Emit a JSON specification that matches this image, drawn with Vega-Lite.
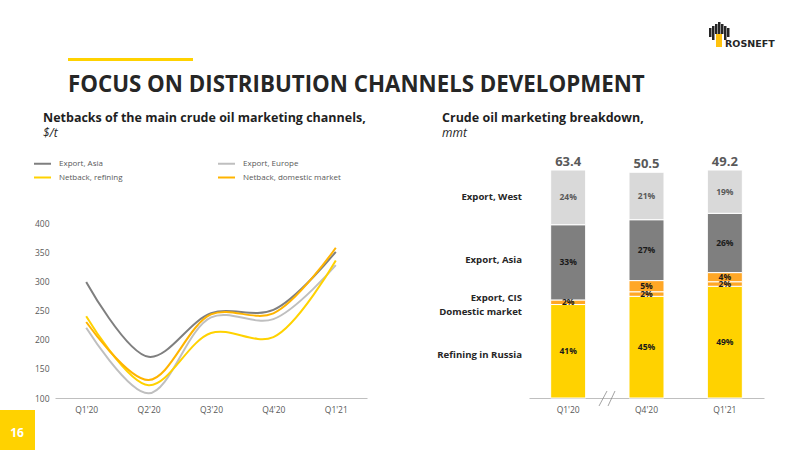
{
"$schema":"https://vega.github.io/schema/vega-lite/v6.json",
"padding":0,
"background":"white",
"bounds":"flush",
"spacing":162,
"resolve":{"scale":{"color":"independent"},"legend":{"color":"independent"}},
"config":{"font":"Open Sans","view":{"stroke":null}},
"datasets":{"one":[{"k":1}],"bars":[
{"q":"Q1'20","c":"Refining in Russia","rank":1,"share":0.41},
{"q":"Q1'20","c":"Domestic market","rank":2,"share":0.02},
{"q":"Q1'20","c":"Export, Asia","rank":4,"share":0.33},
{"q":"Q1'20","c":"Export, West","rank":5,"share":0.24},
{"q":"Q4'20","c":"Refining in Russia","rank":1,"share":0.446},
{"q":"Q4'20","c":"Domestic market","rank":2,"share":0.02},
{"q":"Q4'20","c":"Export, CIS","rank":3,"share":0.049},
{"q":"Q4'20","c":"Export, Asia","rank":4,"share":0.267},
{"q":"Q4'20","c":"Export, West","rank":5,"share":0.208},
{"q":"Q1'21","c":"Refining in Russia","rank":1,"share":0.49},
{"q":"Q1'21","c":"Domestic market","rank":2,"share":0.02},
{"q":"Q1'21","c":"Export, CIS","rank":3,"share":0.04},
{"q":"Q1'21","c":"Export, Asia","rank":4,"share":0.26},
{"q":"Q1'21","c":"Export, West","rank":5,"share":0.19}
]},
"hconcat":[
{"width":312,"height":228,"layer":[
{"data":{"name":"one"},"mark":{"type":"rect","x":-55,"x2":745,"y":-170,"y2":280,"fill":"white","fillOpacity":0},"encoding":{}},
{"data":{"name":"one"},"mark":{"type":"rect","x":-55,"x2":-20,"y":240,"y2":280,"fill":"#FFD200"},"encoding":{}},
{"data":{"name":"one"},"mark":{"type":"rect","x":13,"x2":138,"y":-112,"y2":-109,"fill":"#FFD200"},"encoding":{}},
{"data":{"values":[{"t":"16"}]},"mark":{"type":"text","x":-38,"y":263,"fontSize":12,"fontWeight":"bold","fill":"white"},"encoding":{"text":{"field":"t"}}},
{"data":{"values":[{"t":"FOCUS ON DISTRIBUTION CHANNELS DEVELOPMENT"}]},"mark":{"type":"text","x":13,"y":-78,"align":"left","baseline":"alphabetic","fontSize":22.3,"fontWeight":"bold","fill":"#262626"},"encoding":{"text":{"field":"t"}}},
{"data":{"values":[{"t":"Netbacks of the main crude oil marketing channels,"}]},"mark":{"type":"text","x":-12,"y":-48,"align":"left","baseline":"alphabetic","fontSize":12.5,"fontWeight":"bold","fill":"#1F1F1F"},"encoding":{"text":{"field":"t"}}},
{"data":{"values":[{"t":"$/t"}]},"mark":{"type":"text","x":-12,"y":-33,"align":"left","baseline":"alphabetic","fontSize":12,"fontStyle":"italic","fill":"#262626"},"encoding":{"text":{"field":"t"}}},
{"data":{"values":[{"t":"ROSNEFT"}]},"mark":{"type":"text","x":670,"y":-123,"align":"left","baseline":"alphabetic","fontSize":9.5,"fontWeight":"bold","fill":"#262626","font":"DejaVu Sans"},"encoding":{"text":{"field":"t"}}},
{"data":{"name":"one"},"mark":{"type":"rect","fill":"#262626"},"encoding":{"x":{"value":654},"x2":{"value":656.5},"y":{"value":-142},"y2":{"value":-133}}},
{"data":{"name":"one"},"mark":{"type":"rect","fill":"#262626"},"encoding":{"x":{"value":657},"x2":{"value":659.5},"y":{"value":-144},"y2":{"value":-130}}},
{"data":{"name":"one"},"mark":{"type":"rect","fill":"#262626"},"encoding":{"x":{"value":660},"x2":{"value":662.5},"y":{"value":-146},"y2":{"value":-136}}},
{"data":{"name":"one"},"mark":{"type":"rect","fill":"#262626"},"encoding":{"x":{"value":663},"x2":{"value":665.5},"y":{"value":-148},"y2":{"value":-136}}},
{"data":{"name":"one"},"mark":{"type":"rect","fill":"#262626"},"encoding":{"x":{"value":666},"x2":{"value":668.5},"y":{"value":-146},"y2":{"value":-136}}},
{"data":{"name":"one"},"mark":{"type":"rect","fill":"#262626"},"encoding":{"x":{"value":669},"x2":{"value":671.5},"y":{"value":-144},"y2":{"value":-130}}},
{"data":{"name":"one"},"mark":{"type":"rect","fill":"#262626"},"encoding":{"x":{"value":672},"x2":{"value":674.5},"y":{"value":-142},"y2":{"value":-133}}},
{"data":{"name":"one"},"mark":{"type":"rect","x":661,"x2":667,"y":-136,"y2":-123,"fill":"#FFC20E"},"encoding":{}},
{"data":{"values":[
{"q":"Q1'20","s":"Export, Asia","v":300},{"q":"Q2'20","s":"Export, Asia","v":171},{"q":"Q3'20","s":"Export, Asia","v":246},{"q":"Q4'20","s":"Export, Asia","v":252},{"q":"Q1'21","s":"Export, Asia","v":352},
{"q":"Q1'20","s":"Export, Europe","v":221},{"q":"Q2'20","s":"Export, Europe","v":108},{"q":"Q3'20","s":"Export, Europe","v":239},{"q":"Q4'20","s":"Export, Europe","v":236},{"q":"Q1'21","s":"Export, Europe","v":329},
{"q":"Q1'20","s":"Netback, refining","v":241},{"q":"Q2'20","s":"Netback, refining","v":122},{"q":"Q3'20","s":"Netback, refining","v":212},{"q":"Q4'20","s":"Netback, refining","v":205},{"q":"Q1'21","s":"Netback, refining","v":337},
{"q":"Q1'20","s":"Netback, domestic market","v":231},{"q":"Q2'20","s":"Netback, domestic market","v":131},{"q":"Q3'20","s":"Netback, domestic market","v":244},{"q":"Q4'20","s":"Netback, domestic market","v":246},{"q":"Q1'21","s":"Netback, domestic market","v":359}
]},
"mark":{"type":"line","interpolate":"catmull-rom","strokeWidth":2},
"encoding":{
"x":{"field":"q","type":"ordinal","sort":null,"title":null,"scale":{"type":"point","padding":0.5},"axis":{"labelAngle":0,"ticks":false,"labelFontSize":8.5,"labelColor":"#595959","domainColor":"#BFBFBF","domainWidth":1.2,"labelPadding":7}},
"y":{"field":"v","type":"quantitative","title":null,"scale":{"domain":[100,493],"nice":false,"zero":false},"axis":{"values":[100,150,200,250,300,350,400],"domain":false,"ticks":false,"grid":false,"labelFontSize":8.5,"labelColor":"#595959","labelPadding":6}},
"color":{"field":"s","type":"nominal","sort":null,"scale":{"domain":["Export, Asia","Netback, refining","Export, Europe","Netback, domestic market"],"range":["#7F7F7F","#FFD200","#BFBFBF","#FFB400"]},
"legend":{"orient":"none","legendX":-22,"legendY":-16,"columns":2,"title":null,"symbolType":"stroke","symbolSize":289,"symbolStrokeWidth":2,"labelFontSize":8,"labelColor":"#595959","rowPadding":-3,"columnPadding":91,"labelOffset":7}}
}}
]},
{"width":235,"height":228,"layer":[
{"data":{"values":[{"t":"Crude oil marketing breakdown,"}]},"mark":{"type":"text","x":-87,"y":-48,"align":"left","baseline":"alphabetic","fontSize":12.5,"fontWeight":"bold","fill":"#1F1F1F"},"encoding":{"text":{"field":"t"}}},
{"data":{"values":[{"t":"mmt"}]},"mark":{"type":"text","x":-87,"y":-33,"align":"left","baseline":"alphabetic","fontSize":12,"fontStyle":"italic","fill":"#262626"},"encoding":{"text":{"field":"t"}}},
{"data":{"name":"one"},"mark":{"type":"rule","stroke":"#8C8C8C","strokeWidth":0.8},"encoding":{"x":{"value":70},"x2":{"value":78},"y":{"value":236},"y2":{"value":221}}},
{"data":{"name":"one"},"mark":{"type":"rule","stroke":"#8C8C8C","strokeWidth":0.8},"encoding":{"x":{"value":79},"x2":{"value":86},"y":{"value":236},"y2":{"value":221}}},
{"data":{"name":"bars"},
"mark":{"type":"bar","size":35,"stroke":"white","strokeWidth":1},
"encoding":{
"x":{"field":"q","type":"ordinal","sort":null,"title":null,"scale":{"paddingInner":0.553,"paddingOuter":0.2765},"axis":{"labelAngle":0,"ticks":false,"labelFontSize":8.5,"labelColor":"#595959","domainColor":"#BFBFBF","domainWidth":1.2,"labelPadding":7}},
"y":{"field":"share","type":"quantitative","stack":"zero","title":null,"scale":{"domain":[0,1],"nice":false},"axis":null},
"order":{"field":"rank","type":"ordinal"},
"color":{"field":"c","type":"nominal","sort":null,"scale":{"domain":["Refining in Russia","Domestic market","Export, CIS","Export, Asia","Export, West"],"range":["#FFD200","#FFA726","#FFA726","#7F7F7F","#D9D9D9"]},"legend":null}
}},
{"data":{"name":"bars"},
"mark":{"type":"text","fontSize":8.5,"fontWeight":"bold"},
"encoding":{
"x":{"field":"q","type":"ordinal","sort":null},
"y":{"field":"share","type":"quantitative","stack":"zero","bandPosition":0.5},
"order":{"field":"rank","type":"ordinal"},
"text":{"field":"share","type":"quantitative","format":".0%"},
"color":{"condition":{"test":"datum.c === 'Export, West'","value":"#595959"},"value":"#1A1A1A"}
}},
{"data":{"values":[{"q":"Q1'20","total":63.4,"top":1.0},{"q":"Q4'20","total":50.5,"top":0.99},{"q":"Q1'21","total":49.2,"top":1.0}]},
"mark":{"type":"text","fontSize":13,"fontWeight":"bold","fill":"#595959","baseline":"bottom","dy":-1},
"encoding":{
"x":{"field":"q","type":"ordinal","sort":null},
"y":{"field":"top","type":"quantitative"},
"text":{"field":"total","type":"quantitative","format":".1f"}
}},
{"data":{"values":[{"c":"Export, West","level":0.882},{"c":"Export, Asia","level":0.605},{"c":"Export, CIS","level":0.439},{"c":"Domestic market","level":0.377},{"c":"Refining in Russia","level":0.189}]},
"mark":{"type":"text","x":-7,"align":"right","fontSize":9.6,"fontWeight":"bold","fill":"#262626"},
"encoding":{
"y":{"field":"level","type":"quantitative"},
"text":{"field":"c"}
}}
]}
]
}
